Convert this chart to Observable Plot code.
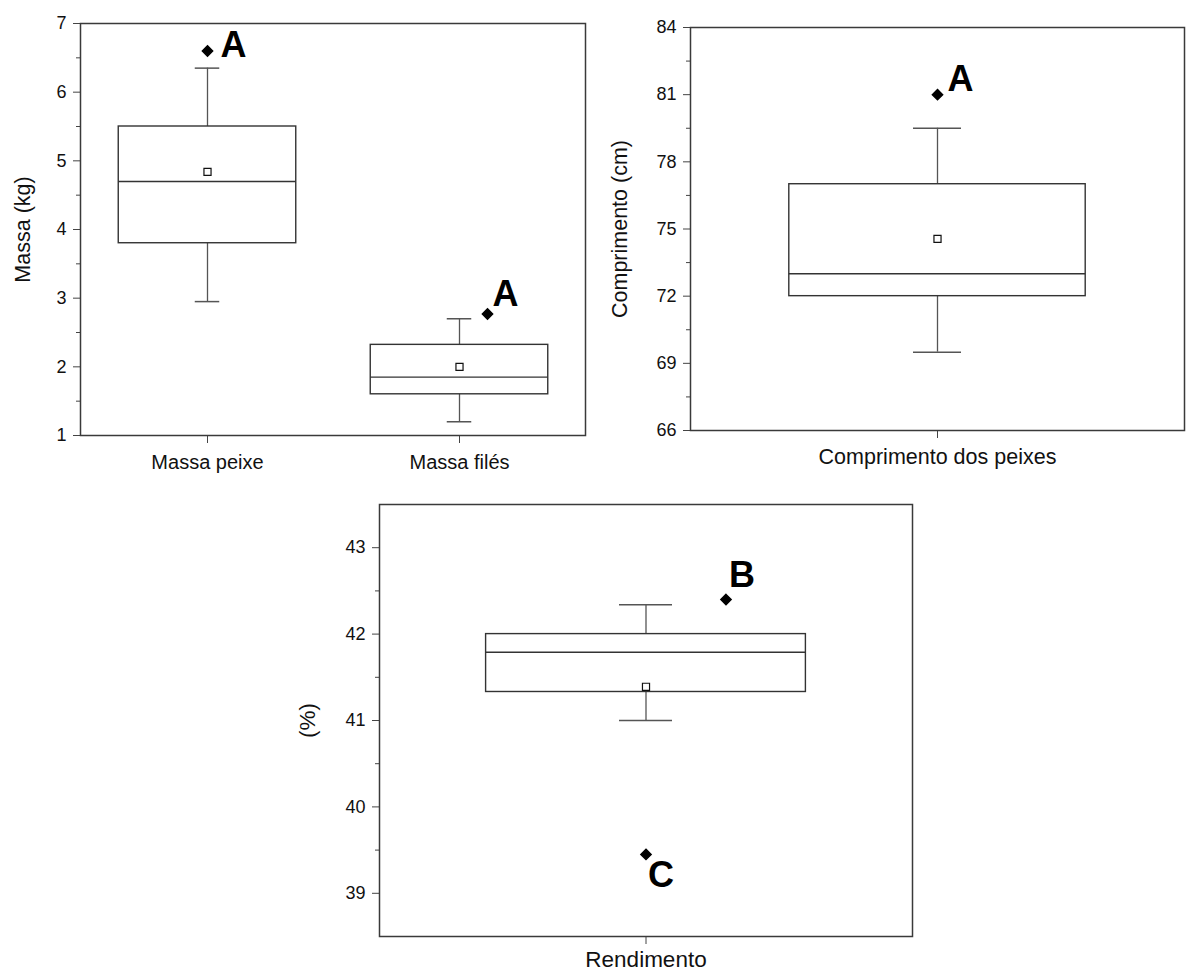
<!DOCTYPE html>
<html>
<head>
<meta charset="utf-8">
<script src="https://cdn.jsdelivr.net/npm/d3@7"></script>
<script src="https://cdn.jsdelivr.net/npm/@observablehq/plot@0.6"></script>
<style>
  html, body { margin: 0; padding: 0; background: #ffffff; }
  #page { position: relative; width: 1186px; height: 971px; overflow: hidden; font-family: "Liberation Sans", Arial, sans-serif; }
  .panel { position: absolute; }
</style>
</head>
<body>
<div id="page"></div>
<script>
// ---- Massa: fish and fillet weight (kg) ----
const massaCats    = ["Massa peixe", "Massa filés"];
const massaMin     = [2.95, 1.20];
const massaQ1      = [3.80, 1.60];
const massaMedian  = [4.70, 1.85];
const massaQ3      = [5.50, 2.32];
const massaMax     = [6.35, 2.70];
const massaMean    = [4.84, 2.00];
const massaOutCat  = ["Massa peixe", "Massa filés"];
const massaOutVal  = [6.60, 2.77];
const massaOutTag  = ["A", "A"];
const massaTicks   = [1, 2, 3, 4, 5, 6, 7];
const massaMinor   = [1.5, 2.5, 3.5, 4.5, 5.5, 6.5];

// ---- Comprimento: fish length (cm) ----
const compCats     = ["Comprimento dos peixes"];
const compMin      = [69.5];
const compQ1       = [72.0];
const compMedian   = [73.0];
const compQ3       = [77.0];
const compMax      = [79.5];
const compMean     = [74.56];
const compOutCat   = ["Comprimento dos peixes"];
const compOutVal   = [81.0];
const compOutTag   = ["A"];
const compTicks    = [66, 69, 72, 75, 78, 81, 84];
const compMinor    = [67.5, 70.5, 73.5, 76.5, 79.5, 82.5];

// ---- Rendimento: fillet yield (%) ----
const rendCats     = ["Rendimento"];
const rendMin      = [41.00];
const rendQ1       = [41.33];
const rendMedian   = [41.79];
const rendQ3       = [42.00];
const rendMax      = [42.34];
const rendMean     = [41.39];
const rendOutCat   = ["Rendimento", "Rendimento"];
const rendOutVal   = [42.40, 39.45];
const rendOutTag   = ["B", "C"];
const rendTicks    = [39, 40, 41, 42, 43];
const rendMinor    = [39.5, 40.5, 41.5, 42.5];

const zip = (cats, cols) => cats.map((c, i) => {
  const row = {cat: c};
  for (const k in cols) row[k] = cols[k][i];
  return row;
});

function boxPanel(cfg) {
  const {cats, stats, outliers, yDomain, ticks, minor, yLabel,
         width, height, margin, boxFrac, capPx, labelOffset, catPad,
         catFont, titleFont, outDx, tagDx, tagDy} = cfg;
  const band = (width - margin.left - margin.right) / cats.length;
  const boxInset = band * (1 - boxFrac) / 2;
  const capInset = (band - capPx) / 2;
  const ink = "#333";
  const font = "'Liberation Sans', Arial, sans-serif";

  // each outlier gets its own diamond and letter, nudged sideways like the original figure
  const outlierMarks = outliers.flatMap((o, i) => [
    Plot.dot([o], {x: "cat", y: "value", symbol: "diamond2", r: 4.6, fill: "#000", stroke: "#000", dx: outDx[i]}),
    Plot.text([o], {x: "cat", y: "value", text: "tag", fontSize: 36, fontWeight: "bold",
                    textAnchor: "start", fill: "#000", dx: outDx[i] + tagDx[i], dy: tagDy[i]})
  ]);

  return Plot.plot({
    width, height,
    marginLeft: margin.left, marginRight: margin.right,
    marginTop: margin.top, marginBottom: margin.bottom,
    style: {fontFamily: font, color: "#111", background: "transparent", overflow: "visible"},
    x: {type: "band", domain: cats, padding: 0, axis: null},
    y: {domain: yDomain, axis: null},
    marks: [
      // minor and major tick marks on the value axis
      Plot.axisY({ticks: minor, tickSize: 4, text: null, label: null, stroke: "#444"}),
      Plot.axisY({ticks, tickSize: 7, tickPadding: 7, tickFormat: d => String(d), fontSize: 18, label: null, stroke: "#444"}),
      Plot.axisY({ticks: [], tickSize: 0, label: yLabel, labelAnchor: "center", labelArrow: "none",
                  labelOffset, fontSize: titleFont}),
      Plot.axisX({tickSize: 8, tickPadding: catPad, fontSize: catFont, label: null, stroke: "#444"}),
      // whiskers
      Plot.ruleX(stats, {x: "cat", y1: "min", y2: "max", stroke: "#555", strokeWidth: 1.3}),
      Plot.tickY(stats, {x: "cat", y: "min", stroke: "#555", strokeWidth: 1.5, insetLeft: capInset, insetRight: capInset}),
      Plot.tickY(stats, {x: "cat", y: "max", stroke: "#555", strokeWidth: 1.5, insetLeft: capInset, insetRight: capInset}),
      // interquartile box and median
      Plot.barY(stats, {x: "cat", y1: "q1", y2: "q3", fill: "white", stroke: ink, strokeWidth: 1.4,
                        insetLeft: boxInset, insetRight: boxInset}),
      Plot.tickY(stats, {x: "cat", y: "median", stroke: ink, strokeWidth: 1.4, insetLeft: boxInset, insetRight: boxInset}),
      // mean
      Plot.dot(stats, {x: "cat", y: "mean", symbol: "square", r: 4, fill: "white", stroke: "#111", strokeWidth: 1.2}),
      ...outlierMarks,
      Plot.frame({stroke: "#3a3a3a", strokeWidth: 1.5})
    ]
  });
}

function place(node, left, top) {
  const div = document.createElement("div");
  div.className = "panel";
  div.style.left = left + "px";
  div.style.top = top + "px";
  div.appendChild(node);
  document.getElementById("page").appendChild(div);
}

const massaStats = zip(massaCats, {min: massaMin, q1: massaQ1, median: massaMedian, q3: massaQ3, max: massaMax, mean: massaMean});
const massaOut = zip(massaOutCat, {value: massaOutVal, tag: massaOutTag});
place(boxPanel({
  cats: massaCats, stats: massaStats, outliers: massaOut,
  yDomain: [1, 7], ticks: massaTicks, minor: massaMinor, yLabel: "Massa (kg)",
  width: 600, height: 480, margin: {left: 80, right: 15, top: 23, bottom: 45},
  boxFrac: 0.705, capPx: 25, labelOffset: 66, catPad: 11, catFont: 20, titleFont: 21.5,
  outDx: [0, 28], tagDx: [13, 5], tagDy: [-5, -19]
}), 0, 0);

const compStats = zip(compCats, {min: compMin, q1: compQ1, median: compMedian, q3: compQ3, max: compMax, mean: compMean});
const compOut = zip(compOutCat, {value: compOutVal, tag: compOutTag});
place(boxPanel({
  cats: compCats, stats: compStats, outliers: compOut,
  yDomain: [66, 84], ticks: compTicks, minor: compMinor, yLabel: "Comprimento (cm)",
  width: 596, height: 480, margin: {left: 100, right: 2, top: 27, bottom: 50},
  boxFrac: 0.6, capPx: 48, labelOffset: 79, catPad: 10, catFont: 21.5, titleFont: 21.5,
  outDx: [0], tagDx: [10], tagDy: [-15]
}), 590, 0);

const rendStats = zip(rendCats, {min: rendMin, q1: rendQ1, median: rendMedian, q3: rendQ3, max: rendMax, mean: rendMean});
const rendOut = zip(rendOutCat, {value: rendOutVal, tag: rendOutTag});
place(boxPanel({
  cats: rendCats, stats: rendStats, outliers: rendOut,
  yDomain: [38.5, 43.5], ticks: rendTicks, minor: rendMinor, yLabel: "(%)",
  width: 620, height: 481, margin: {left: 79, right: 8, top: 14, bottom: 35},
  boxFrac: 0.6, capPx: 53, labelOffset: 80, catPad: 7, catFont: 22.5, titleFont: 22.5,
  outDx: [80, 0], tagDx: [3, 2], tagDy: [-24, 21]
}), 300, 490);
</script>
</body>
</html>
